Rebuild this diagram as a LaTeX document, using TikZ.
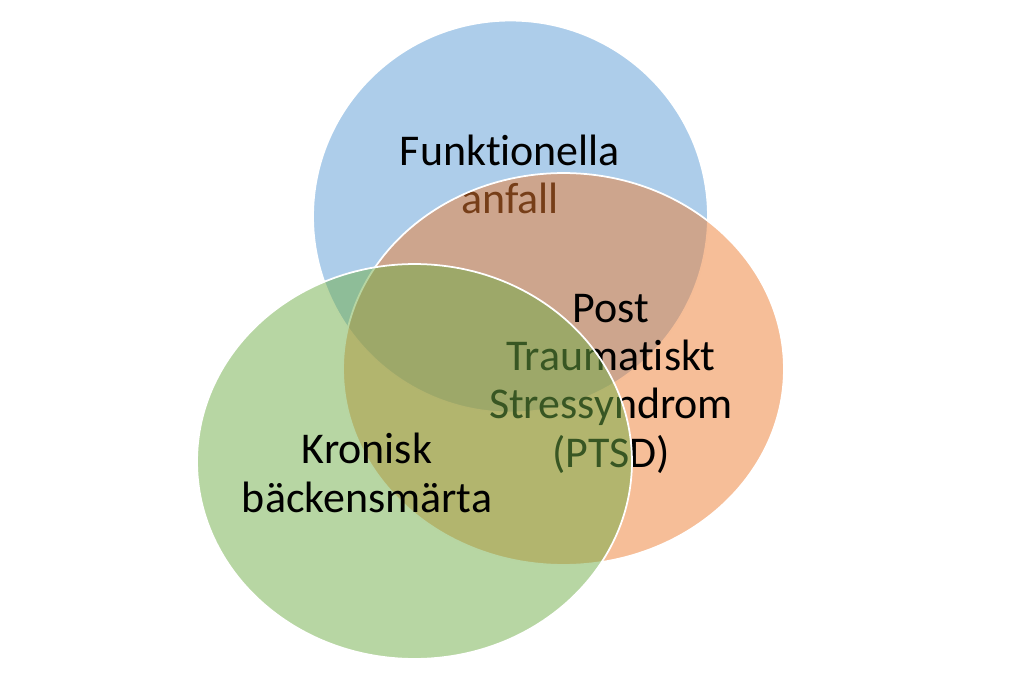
\documentclass[tikz,border=0pt]{standalone}
\usepackage{fontspec}
\setmainfont{Carlito}[Ligatures=NoCommon]
\usetikzlibrary{shapes.geometric}
\definecolor{setblue}{HTML}{5B9BD5}
\definecolor{setorange}{HTML}{ED7D31}
\definecolor{setgreen}{HTML}{70AD47}
\tikzset{
  setshape/.style={ellipse, draw=white, line width=1pt, fill opacity=0.5, inner sep=0pt, outer sep=0pt},
  settext/.style={align=center, anchor=base, inner sep=0pt, font=\fontsize{25}{27.5}\selectfont}
}

\begin{document}
\begin{tikzpicture}[x=0.02cm, y=-0.02cm]
\useasboundingbox (0,0) rectangle (1024,682);
\node (F) at (510.5,216.5) [setshape, fill=setblue, minimum width=7.9cm, minimum height=7.84cm] {};
\node (Ft) at (510,214) [settext] {Funktionella\\anfall};
\node (P) at (563.5,369) [setshape, fill=setorange, minimum width=8.82cm, minimum height=7.84cm] {};
\node (Pt) at (611,467) [settext] {Post\\Traumatiskt\\Stressyndrom\\(PTSD)};
\node (K) at (414.5,461.5) [setshape, fill=setgreen, minimum width=8.7cm, minimum height=7.9cm] {};
\node (Kt) at (367,512) [settext] {Kronisk\\bäckensmärta};
\end{tikzpicture}
\end{document}
